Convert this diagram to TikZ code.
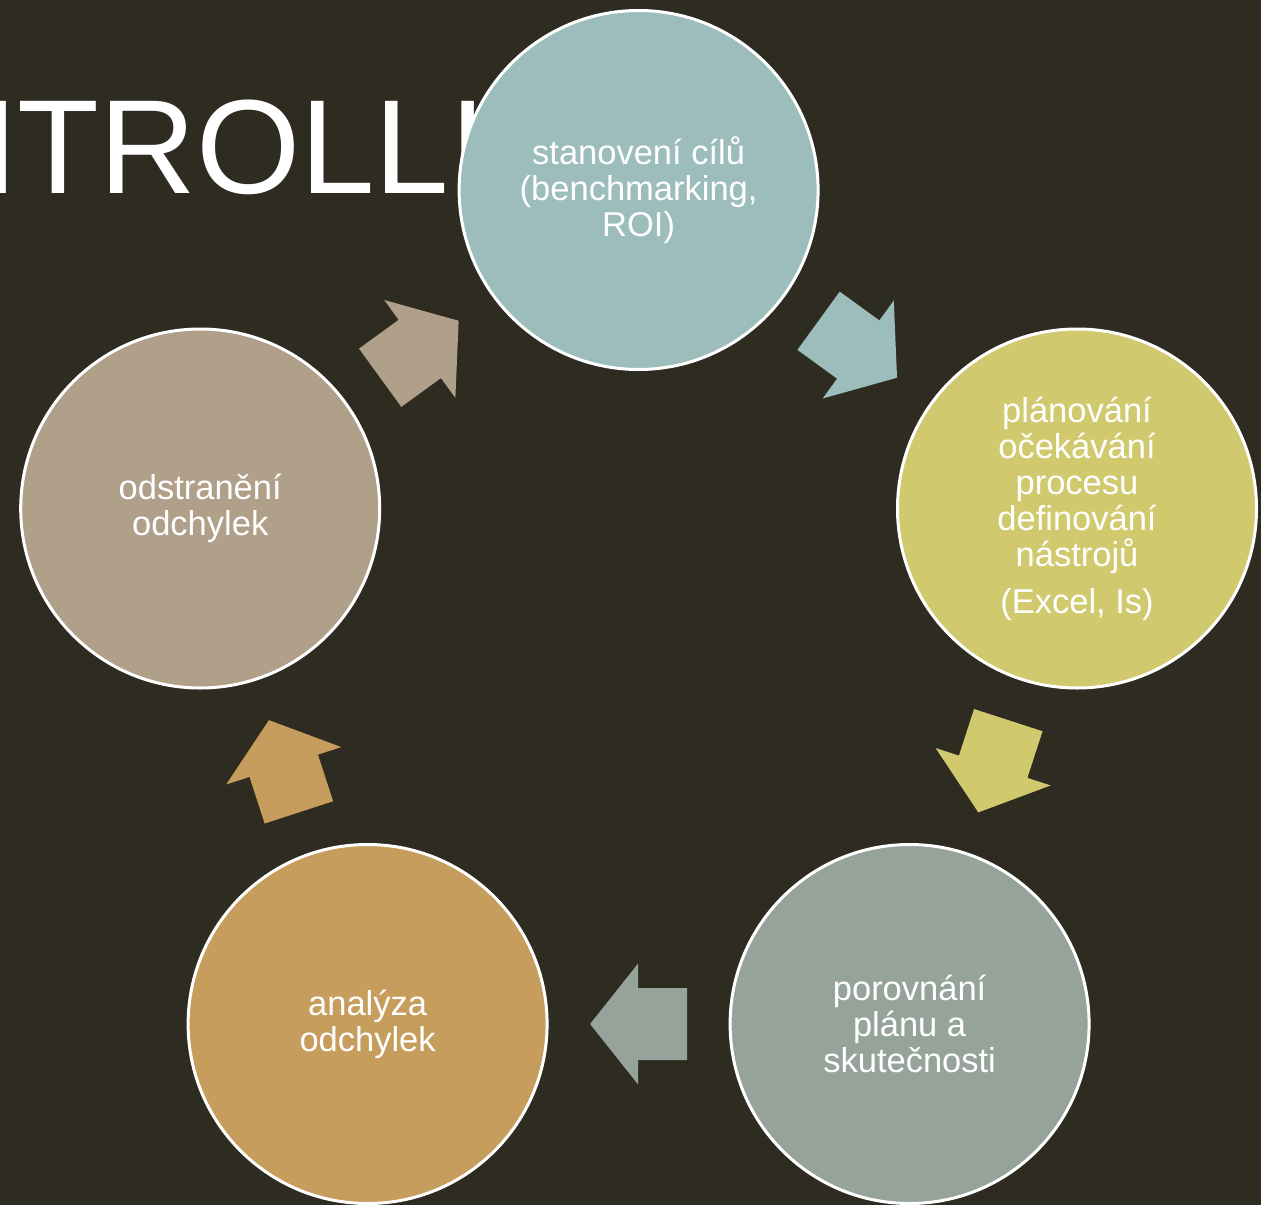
\documentclass[tikz,border=0pt]{standalone}
\usepackage{fontspec}
\setmainfont{Liberation Sans}
\usetikzlibrary{calc}

\definecolor{bgdark}{HTML}{2E2B21}
\definecolor{cteal}{HTML}{9DBDBC}
\definecolor{cyellow}{HTML}{D1C96D}
\definecolor{cgrey}{HTML}{95A39B}
\definecolor{ctan}{HTML}{C69D5D}
\definecolor{cbeige}{HTML}{B09F89}

\tikzset{
  stage/.style={circle, draw=white, line width=3pt, minimum size=359pt,
    inner sep=0pt, align=center, text=white,
    font=\fontsize{34.5}{36}\selectfont},
  cyclearrow/.pic={
    \fill (-48.5,-36) -- (0.5,-36) -- (0.5,-60.5) -- (48.5,0)
          -- (0.5,60.5) -- (0.5,36) -- (-48.5,36) -- cycle;
  },
  headline/.style={anchor=base west, inner sep=0pt, text=white,
    font=\fontsize{134}{140}\selectfont}
}

\begin{document}
\begin{tikzpicture}[x=1pt, y=-1pt]
  % page and background
  \fill[bgdark] (0,0) rectangle (1261,1205);
  \useasboundingbox (0,0) rectangle (1261,1205);
  \clip (0,0) rectangle (1261,1205);

  % slide title, partly covered by the first stage
  \node[headline] (title) at (-273,193) {KONTROLLING};

  % the five stages of the cycle
  \node[stage, fill=cteal]   (c1) at (638.6,190)  {stanovení cílů\\(benchmarking,\\ROI)};
  \node[stage, fill=cyellow] (c2) at (1077,508.5) {plánování\\očekávání\\procesu\\definování\\nástrojů\\[11pt](Excel, Is)};
  \node[stage, fill=cgrey]   (c3) at (909.6,1024) {porovnání\\plánu a\\skutečnosti};
  \node[stage, fill=ctan]    (c4) at (367.6,1024) {analýza\\odchylek};
  \node[stage, fill=cbeige]  (c5) at (200.2,508.5) {odstranění\\odchylek};

  % block arrows between consecutive stages
  \pic[fill=cteal,   rotate=-36]  at ($(c1)!0.5!(c2)$) {cyclearrow};
  \pic[fill=cyellow, rotate=-108] at ($(c2)!0.5!(c3)$) {cyclearrow};
  \pic[fill=cgrey,   rotate=180]  at ($(c3)!0.5!(c4)$) {cyclearrow};
  \pic[fill=ctan,    rotate=108]  at ($(c4)!0.5!(c5)$) {cyclearrow};
  \pic[fill=cbeige,  rotate=36]   at ($(c5)!0.5!(c1)$) {cyclearrow};
\end{tikzpicture}
\end{document}
